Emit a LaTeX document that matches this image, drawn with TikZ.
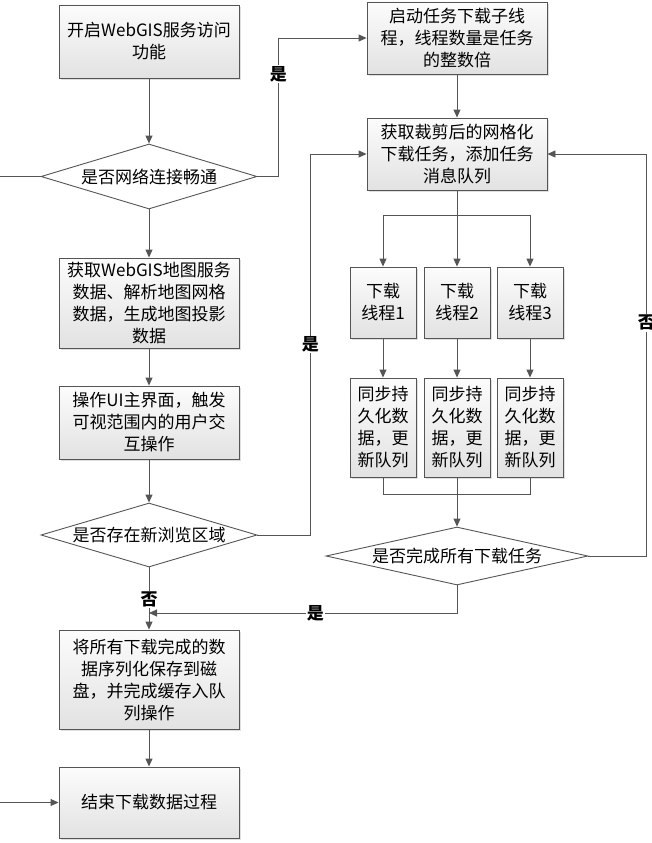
\documentclass[tikz,border=0pt]{standalone}
\usepackage{fontspec}
\setmainfont{Noto Sans CJK SC}
\usetikzlibrary{arrows.meta,shapes.geometric,shadows}
\definecolor{ln_gray}{RGB}{85,85,85}
\definecolor{bx_top}{RGB}{252,252,252}
\definecolor{bx_bot}{RGB}{226,226,226}
\tikzstyle{box}=[rectangle,draw=ln_gray,line width=0.9pt,top color=bx_top,bottom color=bx_bot,
  drop shadow={shadow xshift=2pt,shadow yshift=-2pt,opacity=0.25},align=center,inner sep=0pt,
  minimum width=180pt,font=\fontsize{17}{22}\selectfont]
\tikzstyle{tb}=[box,minimum width=66pt]
\tikzstyle{dm}=[diamond,draw=ln_gray,line width=0.9pt,fill=white,inner sep=0pt,aspect=3.3,
  font=\fontsize{17}{22}\selectfont]
\tikzstyle{ar}=[draw=ln_gray,line width=0.9pt,-{Triangle[length=8pt,width=7pt]}]
\tikzstyle{ln}=[draw=ln_gray,line width=0.9pt]
\tikzstyle{yn}=[fill=white,inner sep=1pt,font=\fontsize{17}{20}\selectfont\bfseries]

\begin{document}
\begin{tikzpicture}[x=1pt,y=-1pt]
            \useasboundingbox (0,0) rectangle (652,843);
            % left column
            \node [style=box,minimum height=73pt] (1) at (149, 41.5) {开启WebGIS服务访问\\功能};
            \node [style=dm,minimum width=216pt,minimum height=65pt] (2) at (149, 176.5) {是否网络连接畅通};
            \node [style=box,minimum height=90pt] (3) at (149, 303) {获取WebGIS地图服务\\数据、解析地图网格\\数据，生成地图投影\\数据};
            \node [style=box,minimum height=73pt] (4) at (149, 422.5) {操作UI主界面，触发\\可视范围内的用户交\\互操作};
            \node [style=dm,minimum width=216pt,minimum height=64pt] (5) at (149, 535) {是否存在新浏览区域};
            \node [style=box,minimum height=99pt] (6) at (149, 679.5) {将所有下载完成的数\\据序列化保存到磁\\盘，并完成缓存入队\\列操作};
            \node [style=box,minimum height=71pt] (7) at (149, 802.5) {结束下载数据过程};
            % right column
            \node [style=box,minimum height=72pt] (8) at (457, 38) {启动任务下载子线\\程，线程数量是任务\\的整数倍};
            \node [style=box,minimum height=72pt] (9) at (457, 154) {获取裁剪后的网格化\\下载任务，添加任务\\消息队列};
            \node [style=tb,minimum height=71pt] (10) at (383, 302.5) {下载\\线程1};
            \node [style=tb,minimum height=71pt] (11) at (457, 302.5) {下载\\线程2};
            \node [style=tb,minimum height=71pt] (12) at (530, 302.5) {下载\\线程3};
            \node [style=tb,minimum height=99pt] (13) at (383, 427.5) {同步持\\久化数\\据，更\\新队列};
            \node [style=tb,minimum height=99pt] (14) at (457, 427.5) {同步持\\久化数\\据，更\\新队列};
            \node [style=tb,minimum height=99pt] (15) at (530, 427.5) {同步持\\久化数\\据，更\\新队列};
            \node [style=dm,aspect=4.5,minimum width=262pt,minimum height=58pt] (16) at (457, 556) {是否完成所有下载任务};
            \coordinate (m) at (149, 613);

            \draw [ar] (1) to (2);
            \draw [ar] (2) to (3);
            \draw [ar] (3) to (4);
            \draw [ar] (4) to (5);
            \draw [ar] (5) to node [yn,pos=0.52] {否} (6);
            \draw [ar] (6) to (7);
            \draw [ar] (2.east) -- ++(21,0) |- node [yn,pos=0.37] {是} (8.west);
            \draw [ar] (2.west) -- ++(-43,0) |- (7.west);
            \draw [ar] (5.east) -- ++(53,0) |- node [yn,pos=0.25] {是} (9.west);
            \draw [ar] (8) to (9);
            \draw [ar] (9) to (11);
            \draw [ar] (9.south) ++(0,25) -| (10.north);
            \draw [ar] (9.south) ++(0,25) -| (12.north);
            \draw [ar] (10) to (13);
            \draw [ar] (11) to (14);
            \draw [ar] (12) to (15);
            \draw [ln] (13.south) -- ++(0,17) -| (15.south);
            \draw [ar] (14) to (16);
            \draw [ar] (16.east) -- ++(58,0) |- node [yn,pos=0.29] {否} (9.east);
            \draw [ar] (16.south) |- node [yn,pos=0.73] {是} (m);
    \end{tikzpicture}
\end{document}
